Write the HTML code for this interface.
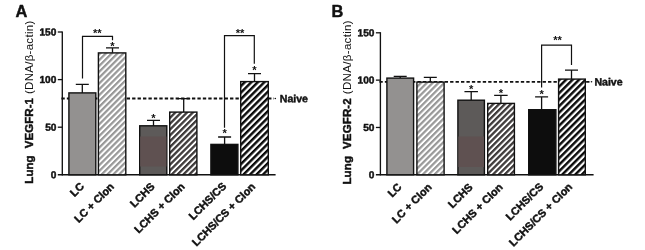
<!DOCTYPE html>
<html lang="en"><head><meta charset="utf-8"><title>Lung VEGFR-1 / VEGFR-2</title>
<style>html,body{margin:0;padding:0;background:#fff;}body{width:645px;height:250px;overflow:hidden;}svg{display:block;will-change:transform;}text{font-family:"Liberation Sans", Arial, Helvetica, sans-serif;fill:#111;}[font-weight=bold]:not([stroke]){stroke:#111;stroke-width:.45px;stroke-linejoin:round;}</style>
</head><body>
<svg width="645" height="250" viewBox="0 0 645 250">
<defs>
<pattern id="h1" patternUnits="userSpaceOnUse" width="4.13" height="4.13" patternTransform="rotate(-45)"><rect width="4.13" height="4.13" fill="#fff"/><rect y="0" width="4.13" height="2.20" fill="#989898"/></pattern>
<pattern id="h2" patternUnits="userSpaceOnUse" width="4.13" height="4.13" patternTransform="rotate(-45)"><rect width="4.13" height="4.13" fill="#fff"/><rect y="0" width="4.13" height="2.30" fill="#3f3b3b"/></pattern>
<pattern id="h3" patternUnits="userSpaceOnUse" width="4.60" height="4.60" patternTransform="rotate(-45)"><rect width="4.60" height="4.60" fill="#fff"/><rect y="0" width="4.60" height="2.45" fill="#0a0a0a"/></pattern>
</defs>
<rect width="645" height="250" fill="#fff"/>
<text x="15.4" y="16.5" font-size="16.4" font-weight="bold">A</text>
<path d="M62.30 31.40V175.40" stroke="#111" stroke-width="1.35" fill="none"/>
<path d="M57.80 174.80H275.60" stroke="#111" stroke-width="1.6" fill="none"/>
<text transform="translate(56.40 178.25) rotate(0.03)" font-size="10.15" font-weight="bold" text-anchor="end">0</text>
<path d="M57.80 127.20H62.30" stroke="#111" stroke-width="1.3" fill="none"/>
<text transform="translate(56.40 130.65) rotate(0.03)" font-size="10.15" font-weight="bold" text-anchor="end">50</text>
<path d="M57.80 79.60H62.30" stroke="#111" stroke-width="1.3" fill="none"/>
<text transform="translate(56.40 83.05) rotate(0.03)" font-size="10.15" font-weight="bold" text-anchor="end">100</text>
<path d="M57.80 32.00H62.30" stroke="#111" stroke-width="1.3" fill="none"/>
<text transform="translate(56.40 35.45) rotate(0.03)" font-size="10.15" font-weight="bold" text-anchor="end">150</text>
<text transform="translate(33.40 183.70) rotate(-90)" font-size="11.5" letter-spacing="0.280" xml:space="preserve"><tspan font-weight="bold" letter-spacing="0.080">Lung <tspan dx="3.7">VEGFR-1</tspan></tspan> <tspan dx="0.4">(DNA/β-actin)</tspan></text>
<path d="M61.40 98.50H274.00" stroke="#111" stroke-width="1.8" stroke-dasharray="3.35 2.09" fill="none"/>
<rect x="68.90" y="92.90" width="26.90" height="81.90" fill="#939190" stroke="#111" stroke-width="1.40"/>
<rect x="98.40" y="52.90" width="27.40" height="121.90" fill="url(#h1)" stroke="#111" stroke-width="1.40"/>
<rect x="139.70" y="125.80" width="27.10" height="49.00" fill="#5d5a59" stroke="#111" stroke-width="1.40"/>
<rect x="169.70" y="112.10" width="27.20" height="62.70" fill="url(#h2)" stroke="#111" stroke-width="1.40"/>
<rect x="210.90" y="144.40" width="27.00" height="30.40" fill="#0d0d0d" stroke="#111" stroke-width="1.40"/>
<rect x="240.70" y="81.60" width="27.60" height="93.20" fill="url(#h3)" stroke="#111" stroke-width="1.40"/>
<rect x="140.2" y="136.5" width="26.2" height="30" fill="#5f5151"/>
<circle cx="275.3" cy="98.5" r="0.8" fill="#111"/>
<path d="M75.80 84.40H88.80M82.30 84.40V93.10" stroke="#111" stroke-width="1.3" fill="none"/>
<path d="M106.00 47.80H119.00M112.50 47.80V52.80" stroke="#111" stroke-width="1.3" fill="none"/>
<text x="112.50" y="50.00" font-size="11.2" font-weight="bold" stroke="none" text-anchor="middle">*</text>
<path d="M147.00 120.40H160.00M153.50 120.40V125.90" stroke="#111" stroke-width="1.3" fill="none"/>
<text x="153.50" y="122.00" font-size="11.2" font-weight="bold" stroke="none" text-anchor="middle">*</text>
<path d="M177.20 98.60H190.20M183.70 98.60V111.90" stroke="#111" stroke-width="1.3" fill="none"/>
<path d="M218.10 137.00H231.10M224.60 137.00V144.20" stroke="#111" stroke-width="1.3" fill="none"/>
<text x="224.60" y="137.00" font-size="11.2" font-weight="bold" stroke="none" text-anchor="middle">*</text>
<path d="M248.00 73.60H261.00M254.50 73.60V81.40" stroke="#111" stroke-width="1.3" fill="none"/>
<text x="254.50" y="74.00" font-size="11.2" font-weight="bold" stroke="none" text-anchor="middle">*</text>
<path d="M82.50 78.40V36.40H112.50V40.20" stroke="#111" stroke-width="1.2" fill="none"/>
<text x="97.30" y="37.00" font-size="11.2" font-weight="bold" stroke="none" text-anchor="middle">**</text>
<path d="M224.50 127.80V35.60H254.30V63.70" stroke="#111" stroke-width="1.2" fill="none"/>
<text x="240.00" y="37.00" font-size="11.2" font-weight="bold" stroke="none" text-anchor="middle">**</text>
<text transform="translate(279.80 102.25) rotate(0.03)" font-size="10.55" font-weight="bold">Naive</text>
<text transform="translate(84.80 187.00) rotate(-45)" font-size="10.85" font-weight="bold" text-anchor="end">LC</text>
<text transform="translate(114.80 187.30) rotate(-45)" font-size="10.85" font-weight="bold" text-anchor="end">LC + Clon</text>
<text transform="translate(155.40 187.20) rotate(-45)" font-size="10.85" font-weight="bold" text-anchor="end">LCHS</text>
<text transform="translate(185.40 187.20) rotate(-45)" font-size="10.85" font-weight="bold" text-anchor="end">LCHS + Clon</text>
<text transform="translate(227.00 186.80) rotate(-45)" font-size="10.85" font-weight="bold" text-anchor="end">LCHS/CS</text>
<text transform="translate(256.00 187.40) rotate(-45)" font-size="10.85" font-weight="bold" text-anchor="end">LCHS/CS + Clon</text>
<text x="331.5" y="16.5" font-size="16.4" font-weight="bold">B</text>
<path d="M380.40 32.20V175.40" stroke="#111" stroke-width="1.35" fill="none"/>
<path d="M375.90 174.80H593.60" stroke="#111" stroke-width="1.6" fill="none"/>
<text transform="translate(374.50 178.25) rotate(0.03)" font-size="10.15" font-weight="bold" text-anchor="end">0</text>
<path d="M375.90 127.47H380.40" stroke="#111" stroke-width="1.3" fill="none"/>
<text transform="translate(374.50 130.92) rotate(0.03)" font-size="10.15" font-weight="bold" text-anchor="end">50</text>
<path d="M375.90 80.13H380.40" stroke="#111" stroke-width="1.3" fill="none"/>
<text transform="translate(374.50 83.58) rotate(0.03)" font-size="10.15" font-weight="bold" text-anchor="end">100</text>
<path d="M375.90 32.80H380.40" stroke="#111" stroke-width="1.3" fill="none"/>
<text transform="translate(374.50 36.25) rotate(0.03)" font-size="10.15" font-weight="bold" text-anchor="end">150</text>
<text transform="translate(350.60 184.60) rotate(-90)" font-size="11.5" letter-spacing="0.335" xml:space="preserve"><tspan font-weight="bold" letter-spacing="0.135">Lung <tspan dx="3.7">VEGFR-2</tspan></tspan> <tspan dx="0.4">(DNA/β-actin)</tspan></text>
<path d="M379.40 81.80H590.00" stroke="#111" stroke-width="1.8" stroke-dasharray="3.35 2.09" fill="none"/>
<rect x="386.90" y="78.10" width="26.70" height="96.70" fill="#939190" stroke="#111" stroke-width="1.40"/>
<rect x="416.90" y="82.10" width="27.20" height="92.70" fill="url(#h1)" stroke="#111" stroke-width="1.40"/>
<rect x="457.90" y="100.20" width="26.50" height="74.60" fill="#5d5a59" stroke="#111" stroke-width="1.40"/>
<rect x="487.70" y="103.40" width="26.70" height="71.40" fill="url(#h2)" stroke="#111" stroke-width="1.40"/>
<rect x="528.70" y="109.70" width="27.20" height="65.10" fill="#0d0d0d" stroke="#111" stroke-width="1.40"/>
<rect x="558.60" y="79.10" width="26.70" height="95.70" fill="url(#h3)" stroke="#111" stroke-width="1.40"/>
<rect x="458.4" y="136.5" width="25.6" height="30.5" fill="#5f5151"/>
<circle cx="591.5" cy="81.8" r="0.8" fill="#111"/>
<path d="M393.70 76.40H406.70M400.20 76.40V77.90" stroke="#111" stroke-width="1.3" fill="none"/>
<path d="M423.80 77.40H436.80M430.30 77.40V81.90" stroke="#111" stroke-width="1.3" fill="none"/>
<path d="M464.45 91.60H477.95M471.20 91.60V100.00" stroke="#111" stroke-width="1.3" fill="none"/>
<text x="471.20" y="93.00" font-size="11.2" font-weight="bold" stroke="none" text-anchor="middle">*</text>
<path d="M494.15 95.40H507.65M500.90 95.40V103.20" stroke="#111" stroke-width="1.3" fill="none"/>
<text x="500.90" y="97.00" font-size="11.2" font-weight="bold" stroke="none" text-anchor="middle">*</text>
<path d="M535.10 96.80H548.10M541.60 96.80V109.50" stroke="#111" stroke-width="1.3" fill="none"/>
<text x="541.60" y="98.00" font-size="11.2" font-weight="bold" stroke="none" text-anchor="middle">*</text>
<path d="M565.00 70.20H578.00M571.50 70.20V78.90" stroke="#111" stroke-width="1.3" fill="none"/>
<path d="M541.60 87.40V45.20H571.50V64.90" stroke="#111" stroke-width="1.2" fill="none"/>
<text x="557.50" y="44.00" font-size="11.2" font-weight="bold" stroke="none" text-anchor="middle">**</text>
<text transform="translate(594.40 85.55) rotate(0.03)" font-size="10.55" font-weight="bold">Naive</text>
<text transform="translate(402.40 187.60) rotate(-45)" font-size="10.85" font-weight="bold" text-anchor="end">LC</text>
<text transform="translate(432.40 187.90) rotate(-45)" font-size="10.85" font-weight="bold" text-anchor="end">LC + Clon</text>
<text transform="translate(473.40 187.80) rotate(-45)" font-size="10.85" font-weight="bold" text-anchor="end">LCHS</text>
<text transform="translate(503.40 187.80) rotate(-45)" font-size="10.85" font-weight="bold" text-anchor="end">LCHS + Clon</text>
<text transform="translate(544.00 187.40) rotate(-45)" font-size="10.85" font-weight="bold" text-anchor="end">LCHS/CS</text>
<text transform="translate(573.00 187.50) rotate(-45)" font-size="10.85" font-weight="bold" text-anchor="end">LCHS/CS + Clon</text>
</svg>
</body></html>
